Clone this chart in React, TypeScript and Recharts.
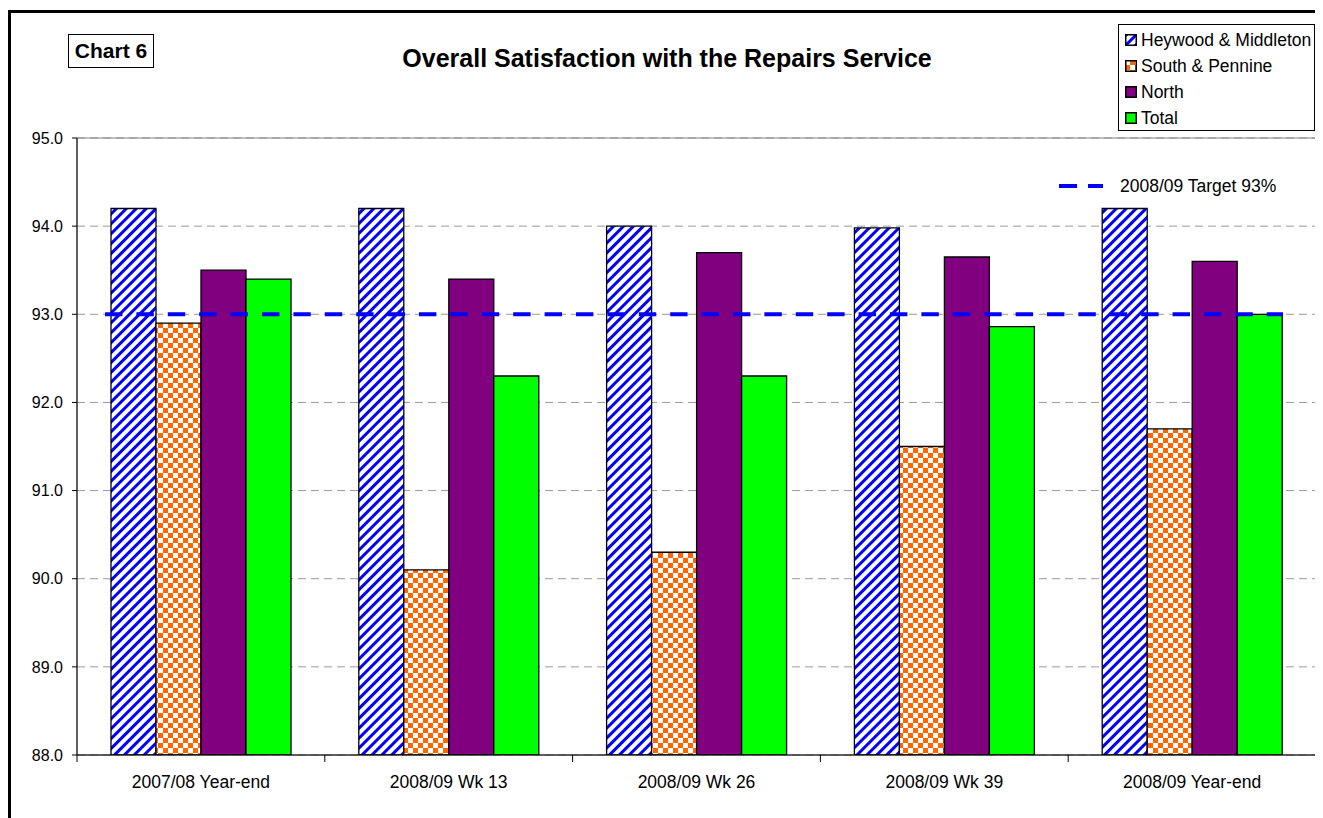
import React from "react";
import {
  BarChart,
  Bar,
  XAxis,
  YAxis,
  CartesianGrid,
  ReferenceLine,
  ReferenceArea,
} from "recharts";

// Survey periods along the category axis
const categories = [
  "2007/08 Year-end",
  "2008/09 Wk 13",
  "2008/09 Wk 26",
  "2008/09 Wk 39",
  "2008/09 Year-end",
];

// Overall satisfaction (%) per area
const heywood = [94.2, 94.2, 94.0, 93.98, 94.2];
const southPennine = [92.9, 90.1, 90.3, 91.5, 91.7];
const north = [93.5, 93.4, 93.7, 93.65, 93.6];
const total = [93.4, 92.3, 92.3, 92.86, 93.0];

const targetValue = 93;
const targetLabel = "2008/09 Target 93%";

const yTicks = [88, 89, 90, 91, 92, 93, 94, 95];

const seriesNames = ["Heywood & Middleton", "South & Pennine", "North", "Total"];
const seriesKeys = ["heywood", "south", "north", "total"];

const data = categories.map((name, i) => ({
  name,
  heywood: heywood[i],
  south: southPennine[i],
  north: north[i],
  total: total[i],
}));

const FONT = "Arial, 'Liberation Sans', Helvetica, sans-serif";
const BLUE = "#0000FF";
const ORANGE = "#FF6600";
const PURPLE = "#800080";
const GREEN = "#00FF00";

const PatternDefs = ({ prefix }: { prefix: string }) => (
  <defs>
    <pattern
      id={`${prefix}-stripes`}
      patternUnits="userSpaceOnUse"
      width={7}
      height={7}
      patternTransform="rotate(45)"
    >
      <rect x={0} y={0} width={7} height={7} fill="#FFFFFF" />
      <rect x={0} y={0} width={3} height={7} fill={BLUE} />
    </pattern>
    <pattern
      id={`${prefix}-checks`}
      patternUnits="userSpaceOnUse"
      width={10}
      height={10}
    >
      <rect x={0} y={0} width={10} height={10} fill={ORANGE} />
      <rect x={0} y={0} width={5} height={5} fill="#FFFFFF" />
      <rect x={5} y={5} width={5} height={5} fill="#FFFFFF" />
    </pattern>
  </defs>
);

const fillFor = (prefix: string, key: string) => {
  if (key === "heywood") return `url(#${prefix}-stripes)`;
  if (key === "south") return `url(#${prefix}-checks)`;
  if (key === "north") return PURPLE;
  return GREEN;
};

const CategoryTick = (props: any) => {
  const { x, y, payload, index } = props;
  const half = payload && payload.offset ? payload.offset : 123.9;
  return (
    <g>
      {index === 0 && (
        <line x1={x - half} y1={y} x2={x - half} y2={y + 7} stroke="#000" strokeWidth={1} />
      )}
      <line x1={x + half} y1={y} x2={x + half} y2={y + 7} stroke="#000" strokeWidth={1} />
      <text
        x={x}
        y={y + 27}
        dy="0.35em"
        textAnchor="middle"
        fontFamily={FONT}
        fontSize={17.5}
        fill="#000"
      >
        {payload.value}
      </text>
    </g>
  );
};

// Target line spanning the bar groups, drawn as a thick dashed blue line
const TargetShape = (props: any) => {
  const { x1, x2, y1 } = props;
  return (
    <line
      x1={x1 + 28}
      x2={x2 - 33}
      y1={y1}
      y2={y1}
      stroke={BLUE}
      strokeWidth={4}
      strokeDasharray="17.4 14"
    />
  );
};

const SeriesLegend = () => (
  <div
    style={{
      position: "absolute",
      left: 1110,
      top: 16,
      width: 197,
      height: 107,
      boxSizing: "border-box",
      border: "1px solid #000",
      background: "#fff",
      fontFamily: FONT,
      fontSize: 17.5,
      color: "#000",
    }}
  >
    {seriesNames.map((name, i) => (
      <div
        key={name}
        style={{
          position: "absolute",
          left: 6,
          top: 5 + i * 26,
          height: 20,
          lineHeight: "20px",
          whiteSpace: "nowrap",
          display: "flex",
          alignItems: "center",
        }}
      >
        <svg width={12} height={12} style={{ display: "block", marginRight: 4 }}>
          <PatternDefs prefix={`lg${i}`} />
          <rect
            x={0.75}
            y={0.75}
            width={10.5}
            height={10.5}
            fill={fillFor(`lg${i}`, seriesKeys[i])}
            stroke="#000"
            strokeWidth={1.5}
          />
        </svg>
        <span>{name}</span>
      </div>
    ))}
  </div>
);

export default function App() {
  return (
    <div
      style={{
        position: "relative",
        width: 1315,
        height: 810,
        overflow: "hidden",
        background: "#fff",
        fontFamily: FONT,
      }}
    >
      {/* outer frame */}
      <div
        style={{
          position: "absolute",
          left: 0,
          top: 2,
          width: 1315,
          height: 808,
          boxSizing: "border-box",
          borderLeft: "3px solid #000",
          borderTop: "3px solid #000",
        }}
      />

      <BarChart
        width={1315}
        height={810}
        data={data}
        margin={{ top: 130, right: 7, left: 0, bottom: 33 }}
        barCategoryGap={34}
        barGap={0}
        style={{ position: "absolute", left: 0, top: 0 }}
      >
        <PatternDefs prefix="bar" />
        <CartesianGrid
          horizontal
          vertical={false}
          stroke="#9A9A9A"
          strokeDasharray="8 5"
        />
        {/* plot-area frame */}
        <ReferenceArea
          y1={88}
          y2={95}
          fill="none"
          fillOpacity={0}
          stroke="#808080"
          strokeWidth={1}
          ifOverflow="extendDomain"
        />
        <XAxis
          dataKey="name"
          interval={0}
          tickLine={false}
          tickSize={0}
          tickMargin={0}
          height={30}
          axisLine={{ stroke: "#000", strokeWidth: 1 }}
          tick={<CategoryTick />}
        />
        <YAxis
          domain={[88, 95]}
          ticks={yTicks}
          allowDataOverflow
          width={69}
          tickSize={5}
          tickMargin={9}
          tickFormatter={(v: number) => v.toFixed(1)}
          axisLine={{ stroke: "#000", strokeWidth: 1 }}
          tickLine={{ stroke: "#000", strokeWidth: 1 }}
          tick={{ fontFamily: FONT, fontSize: 16, fill: "#000" }}
        />
        {seriesKeys.map((key, i) => (
          <Bar
            key={key}
            dataKey={key}
            name={seriesNames[i]}
            fill={fillFor("bar", key)}
            stroke="#000"
            strokeWidth={1.3}
            isAnimationActive={false}
          />
        ))}
        <ReferenceLine y={targetValue} shape={<TargetShape />} />
      </BarChart>

      {/* chart number box */}
      <div
        style={{
          position: "absolute",
          left: 60,
          top: 26,
          width: 86,
          height: 34,
          boxSizing: "border-box",
          border: "1px solid #000",
          fontWeight: "bold",
          fontSize: 21,
          lineHeight: "32px",
          textAlign: "center",
          color: "#000",
        }}
      >
        Chart 6
      </div>

      {/* title */}
      <div
        style={{
          position: "absolute",
          left: 309,
          top: 35,
          width: 700,
          textAlign: "center",
          fontWeight: "bold",
          fontSize: 25,
          lineHeight: "30px",
          color: "#000",
          whiteSpace: "nowrap",
        }}
      >
        Overall Satisfaction with the Repairs Service
      </div>

      <SeriesLegend />

      {/* target legend */}
      <svg
        width={46}
        height={32}
        style={{ position: "absolute", left: 1051, top: 162 }}
      >
        <line
          x1={0}
          x2={44}
          y1={16}
          y2={16}
          stroke={BLUE}
          strokeWidth={4}
          strokeDasharray="18 11"
        />
      </svg>
      <div
        style={{
          position: "absolute",
          left: 1112,
          top: 168,
          lineHeight: "20px",
          fontSize: 17.5,
          color: "#000",
          whiteSpace: "nowrap",
        }}
      >
        {targetLabel}
      </div>
    </div>
  );
}
